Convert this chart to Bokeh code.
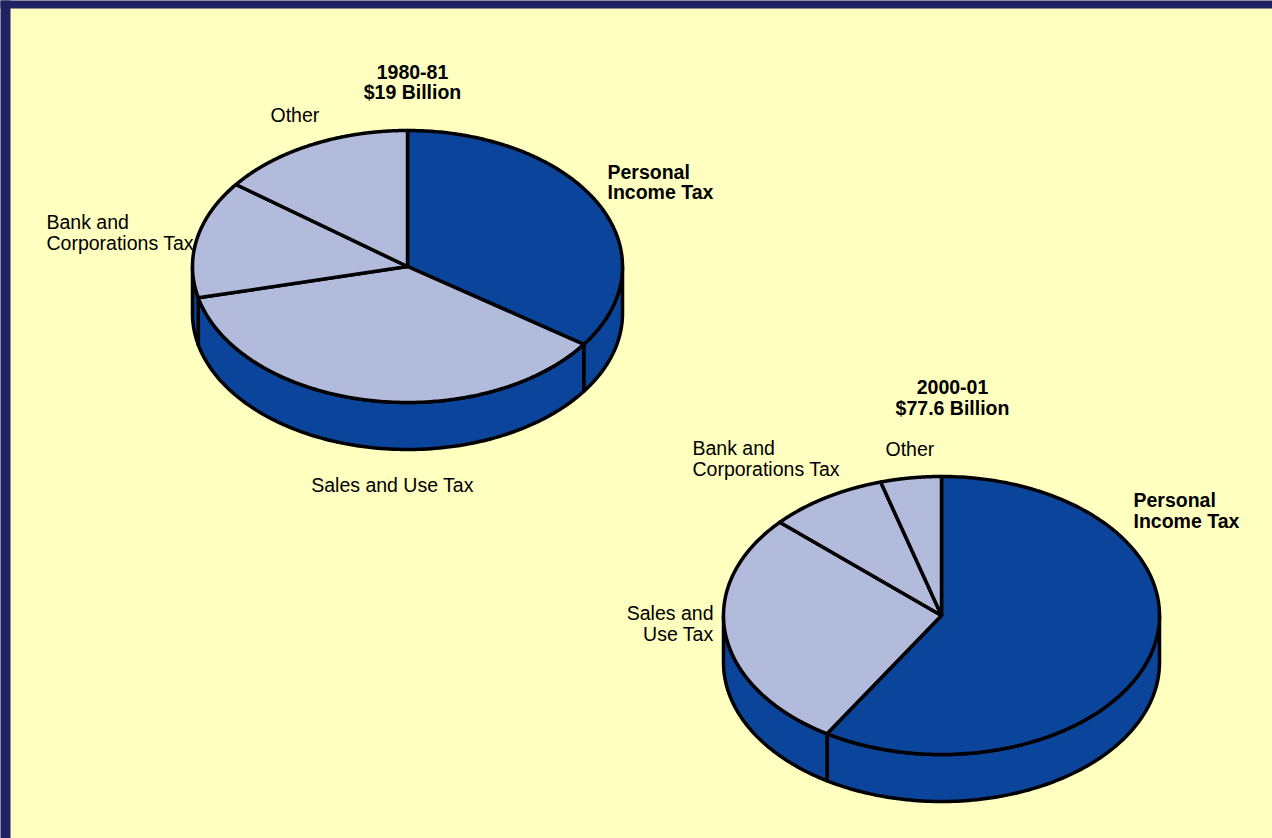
import numpy as np
from bokeh.plotting import figure
from bokeh.models import ColumnDataSource, Range1d
from bokeh.core.properties import value
from bokeh.embed import file_html
from bokeh.resources import INLINE

# ---------------- data ----------------
categories = ["Personal Income Tax", "Sales and Use Tax", "Bank and Corporations Tax", "Other"]
values_1980 = [34.7, 36.6, 14.0, 14.7]
values_2000 = [58.8, 27.9, 8.8, 4.5]
title_1980 = "1980-81\n$19 Billion"
title_2000 = "2000-01\n$77.6 Billion"
labels_1980 = ["Personal\nIncome Tax", "Sales and Use Tax", "Bank and\nCorporations Tax", "Other"]
labels_2000 = ["Personal\nIncome Tax", "Sales and\nUse Tax", "Bank and\nCorporations Tax", "Other"]

# ---------------- style ----------------
DARK = "#0b459b"
LIGHT = "#b3bbdc"
slice_colors = [DARK, LIGHT, LIGHT, LIGHT]
BG = "#ffffc0"
NAVY = "#202064"
W, H = 1272, 838

p = figure(width=W, height=H, output_backend="svg", toolbar_location=None,
           x_range=Range1d(0, W), y_range=Range1d(H, 0), min_border=0)
p.axis.visible = False
p.grid.visible = False
p.outline_line_color = None
p.background_fill_color = BG
p.border_fill_color = BG
# navy frame bands (top and left)
p.quad(left=[-30, -30], right=[10, W + 30], top=[-30, -30], bottom=[H + 30, 8],
       fill_color=NAVY, line_color=None)


def pie3d(vals, cx, cy, rx, ry, depth):
    vals = np.asarray(vals, dtype=float)
    frac = vals / vals.sum()
    ang = np.deg2rad(90.0) - 2 * np.pi * np.concatenate([[0.0], np.cumsum(frac)])
    side_xs, side_ys, side_c = [], [], []
    top_xs, top_ys, top_c = [], [], []
    for i in range(len(vals)):
        a0, a1 = ang[i], ang[i + 1]  # a0 > a1 (clockwise)
        # visible front wall: intersection with [-pi, 0]
        hi = min(a0, 0.0)
        lo = max(a1, -np.pi)
        if hi > lo:
            t = np.linspace(hi, lo, 120)
            xt = cx + rx * np.cos(t)
            yt = cy - ry * np.sin(t)
            xs = np.concatenate([xt, xt[::-1]])
            ys = np.concatenate([yt, (yt + depth)[::-1]])
            side_xs.append(xs.tolist())
            side_ys.append(ys.tolist())
            side_c.append(DARK)
        t = np.linspace(a0, a1, 200)
        xs = np.concatenate([[cx], cx + rx * np.cos(t)])
        ys = np.concatenate([[cy], cy - ry * np.sin(t)])
        top_xs.append(xs.tolist())
        top_ys.append(ys.tolist())
        top_c.append(slice_colors[i])
    p.patches(xs="xs", ys="ys", fill_color="c", source=ColumnDataSource(dict(xs=side_xs, ys=side_ys, c=side_c)),
              line_color="black", line_width=3.5, line_join="round")
    p.patches(xs="xs", ys="ys", fill_color="c", source=ColumnDataSource(dict(xs=top_xs, ys=top_ys, c=top_c)),
              line_color="black", line_width=3.5, line_join="round")


pie3d(values_1980, 407, 266, 215, 136, 47)
pie3d(values_2000, 941, 615, 218, 139, 47)

FONT = value("Liberation Sans")
FS = "19.5px"


def label(x, y, txt, align="left", bold=False):
    p.text(x=[x], y=[y], text=[txt], text_font=FONT, text_font_size=FS,
           text_font_style="bold" if bold else "normal", text_color="black",
           text_align=align, text_baseline="middle", text_line_height=0.95)


# pie 1980-81
label(412, 81.5, title_1980, "center", True)
label(607, 181.5, labels_1980[0], "left", True)
label(392, 484, labels_1980[1], "center")
label(46, 232, labels_1980[2], "left")
label(270, 114, labels_1980[3], "left")

# pie 2000-01
label(952, 397, title_2000, "center", True)
label(1133, 510, labels_2000[0], "left", True)
label(713, 623, labels_2000[1], "right")
label(692, 458, labels_2000[2], "left")
label(885, 448, labels_2000[3], "left")

open("out.html", "w").write(file_html(p, INLINE))
